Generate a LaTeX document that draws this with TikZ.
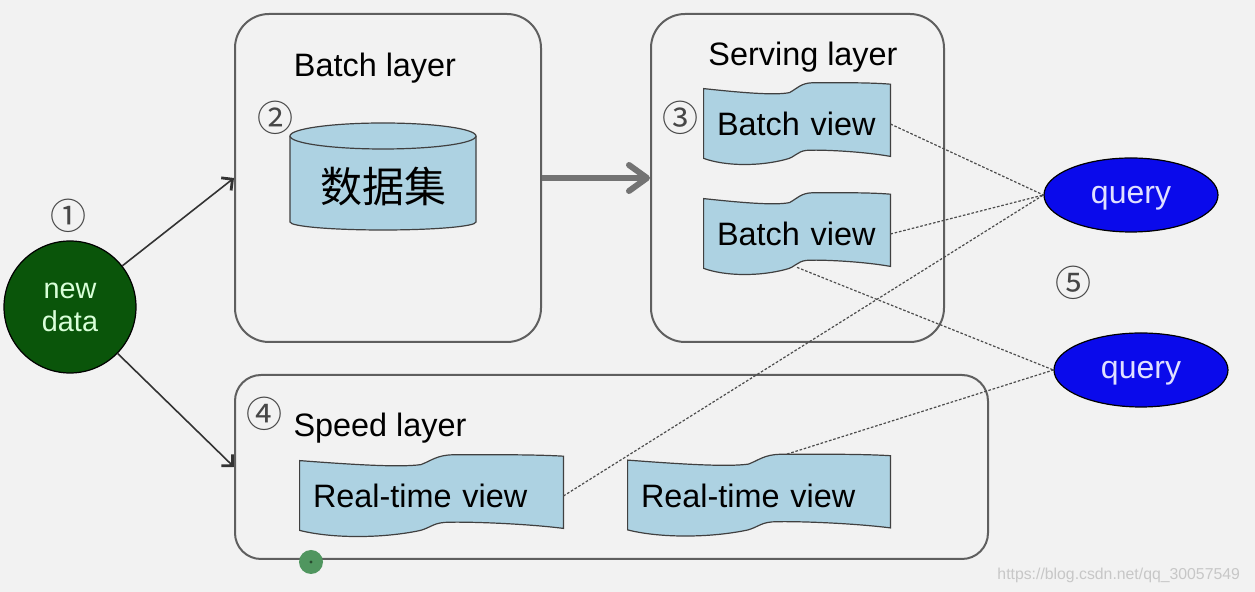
\documentclass[tikz,border=0pt]{standalone}
\usepackage{fontspec}
\setmainfont{Liberation Sans}
\newfontfamily\cjkfont{Noto Sans CJK SC}
\usetikzlibrary{arrows.meta,calc,shapes.geometric}

\definecolor{bgcol}{RGB}{242,242,242}
\definecolor{viewblue}{RGB}{173,210,226}
\definecolor{darkgreen}{RGB}{10,85,10}
\definecolor{queryblue}{RGB}{10,10,235}
\definecolor{framegray}{RGB}{95,95,95}
\definecolor{dotgreen}{RGB}{80,150,95}

\pgfdeclarelayer{back}
\pgfsetlayers{back,main}

\tikzset{
  layer/.style={draw=framegray, line width=1pt, rounded corners=17pt},
  title/.style={font=\fontsize{16.2}{19}\selectfont, anchor=base, inner sep=0pt},
  view/.style={draw=none, inner xsep=6.5pt, inner ysep=0pt, minimum height=41pt,
    align=left, font=\fontsize{16.2}{19}\selectfont},
  wave/.style={fill=viewblue, draw=black!75, line width=0.6pt},
  query/.style={ellipse, draw=black, line width=0.6pt, fill=queryblue, text=white!88!blue,
    minimum width=87pt, minimum height=37pt, inner sep=0pt, text depth=0pt,
    font=\fontsize{16}{19}\selectfont},
  circnum/.style={text=black!72, font=\cjkfont\fontsize{18}{20}\selectfont, inner sep=0pt},
  feed/.style={draw=black!80, line width=0.8pt, -{Straight Barb[length=4pt,width=8pt,line width=1.4pt]}},
  bigarrow/.style={draw=black!55, line width=3pt, -{Straight Barb[length=9pt,width=13pt,round]}},
  link/.style={draw=black!70, line width=0.6pt, dash pattern=on 1.3pt off 0.9pt},
}

% wavy banner drawn round a view node
\newcommand\wavebox[1]{%
  \path[wave] let \p1=(#1.north west), \p2=(#1.south east), \n1={\x2-\x1} in
    (\x1,\y1-3pt)
    .. controls (\x1+0.2*\n1,\y1-5pt) and (\x1+0.38*\n1,\y1-6.5pt) .. (\x1+0.46*\n1,\y1-5pt)
    .. controls (\x1+0.5*\n1,\y1-3pt) and (\x1+0.52*\n1,\y1-0.3pt) .. (\x1+0.58*\n1,\y1-0.1pt)
    .. controls (\x1+0.75*\n1,\y1) and (\x2-0.1*\n1,\y1) .. (\x2,\y1-0.8pt)
    -- (\x2,\y2+4.5pt)
    .. controls (\x2-0.15*\n1,\y2+7pt) and (\x1+0.62*\n1,\y2+8pt) .. (\x1+0.55*\n1,\y2+7.5pt)
    .. controls (\x1+0.5*\n1,\y2+7pt) and (\x1+0.49*\n1,\y2+4pt) .. (\x1+0.44*\n1,\y2+3pt)
    .. controls (\x1+0.3*\n1,\y2-0.5pt) and (\x1+0.12*\n1,\y2-0.5pt) .. (\x1,\y2+3.5pt) -- cycle;}

\begin{document}
\begin{tikzpicture}[x=0.5pt,y=-0.5pt]
    \useasboundingbox (0,0) rectangle (1255,592);
    \begin{pgfonlayer}{back}
        \fill[bgcol] (0,0) rectangle (1255,592);
    \end{pgfonlayer}

    % layers
    \node[layer, minimum width=153pt, minimum height=164pt] (batch) at (388,178) {};
    \node[layer, minimum width=146.5pt, minimum height=164pt] (serving) at (797.5,178) {};
    \node[layer, minimum width=376.5pt, minimum height=92pt, rounded corners=13pt] (speed) at (611.5,467) {};
    \node[title] (batchtitle) at (375,76.5) {Batch layer};
    \node[title] (servingtitle) at (803,65.5) {Serving layer};
    \node[title] (speedtitle) at (380,437) {Speed layer};

    % data set
    \begin{pgfonlayer}{back}
        \draw[wave] (290,136) -- (290,222) arc[start angle=180,end angle=360,x radius=46.5pt,y radius=4pt] -- (476,136);
        \draw[wave] (383,136) ellipse [x radius=46.5pt,y radius=6.5pt];
    \end{pgfonlayer}
    \node[font=\cjkfont\fontsize{21}{24}\selectfont] (ds) at (383,187) {数据集};

    % views
    \node[view, text width=80pt] (bv1) at (797,124) {Batch view};
    \node[view, text width=80pt] (bv2) at (797,234) {Batch view};
    \node[view, text width=118.5pt] (rtv1) at (431.5,496) {Real-time view};
    \node[view, text width=118pt] (rtv2) at (759,495.5) {Real-time view};
    \begin{pgfonlayer}{back}
        \foreach \v in {bv1,bv2,rtv1,rtv2} {\wavebox{\v}}
    \end{pgfonlayer}

    % new data and queries
    \node[circle, draw=black, line width=0.6pt, fill=darkgreen, minimum size=66pt, inner sep=0pt,
          text=green!15, align=center, font=\fontsize{14.4}{16.5}\selectfont] (nd) at (70,307) {new\\data};
    \node[query] (q1) at (1131,195) {query};
    \node[query] (q2) at (1141,370) {query};

    \node[circnum] (n1) at (68,216) {①};
    \node[circnum] (n2) at (275,118) {②};
    \node[circnum] (n3) at (680,118) {③};
    \node[circnum] (n4) at (264,414) {④};
    \node[circnum] (n5) at (1073,283) {⑤};

    \draw[feed] (nd) -- (batch.west);
    \draw[feed] (nd) -- (speed.west);
    \draw[bigarrow] (batch) -- (serving);

    \draw[link] (bv1.east) -- (q1.west);
    \draw[link] (bv2.east) -- (q1.west);
    \draw[link] (rtv1.east) -- (q1.west);
    \draw[link] ([yshift=4pt]bv2.south) -- (q2.west);
    \draw[link] ([xshift=14pt]rtv2.north) -- (q2.west);

    \fill[dotgreen] (311,562) circle (6pt);
    \fill[dotgreen!50!black] (311,562) circle (0.8pt);
    \node[anchor=east, text=black!22, font=\fontsize{7.9}{9}\selectfont] (wm) at (1247,575) {https://blog.csdn.net/qq\_30057549};
\end{tikzpicture}
\end{document}
